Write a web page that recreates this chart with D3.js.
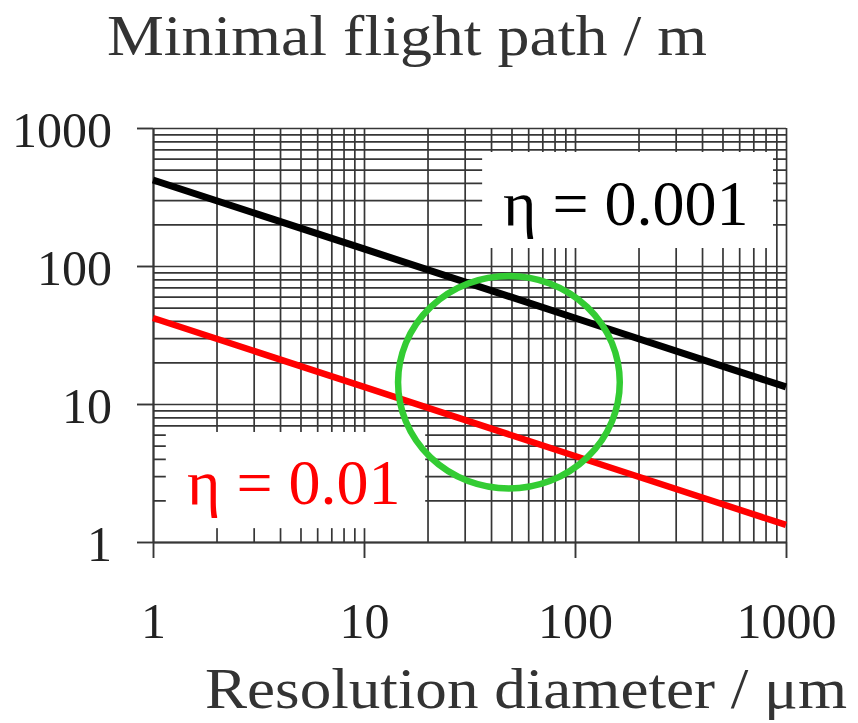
<!DOCTYPE html>
<html>
<head>
<meta charset="utf-8">
<script src="https://cdn.jsdelivr.net/npm/d3@7"></script>
<style>
  body { margin: 0; background: #fff; }
  text { font-family: "Liberation Serif", "DejaVu Serif", serif; }
</style>
</head>
<body>
<div id="chart"></div>
<script>
// values
var diameters = [1, 10, 100, 1000]
var pathEta001 = [420, 133, 42, 13.3]
var pathEta01 = [42, 13.3, 4.2, 1.33]
var majorTicks = [1, 10, 100, 1000]
var tickLabels = ["1", "10", "100", "1000"]
var labelEta001 = "η = 0.001"
var labelEta01 = "η = 0.01"
// highlighted region (data units)
var circleX = [14.5, 163]
var circleY = [2.44, 84.7]

var margin = { top: 128, right: 72, bottom: 181, left: 153 },
    width = 858 - margin.left - margin.right,
    height = 723 - margin.top - margin.bottom;

var svg = d3.select("#chart")
    .append("svg")
    .attr("width", 858)
    .attr("height", 723)

var g = svg.append("g")
    .attr("transform", "translate(" + margin.left + "," + margin.top + ")");

var x = d3.scaleLog().domain([1, 1000]).range([0, width])
var y = d3.scaleLog().domain([1, 1000]).range([height, 0])

// every 1..9 value of each decade for the grid
var gridValues = []
for (let dec = 1; dec < 1000; dec *= 10) {
    for (let k = 1; k < 10; k++) gridValues.push(dec * k)
}
gridValues.push(1000)

var gridColor = "#363636"

g.append("g")
    .attr("class", "xgrid")
    .attr("transform", "translate(0," + height + ")")
    .call(d3.axisBottom(x).tickValues(gridValues).tickSize(-height).tickFormat(""))
    .call(s => s.select(".domain").remove())
    .selectAll("line").attr("stroke", gridColor).attr("stroke-width", 1.7)

g.append("g")
    .attr("class", "ygrid")
    .call(d3.axisLeft(y).tickValues(gridValues).tickSize(-width).tickFormat(""))
    .call(s => s.select(".domain").remove())
    .selectAll("line").attr("stroke", gridColor).attr("stroke-width", 1.7)

// white label boxes (drawn over the grid)
function labelBox(x0, y0, x1, y1, txt, tx, ty, color) {
    g.append("rect")
        .attr("x", x(x0)).attr("y", y(y1))
        .attr("width", x(x1) - x(x0)).attr("height", y(y0) - y(y1))
        .attr("fill", "#fff")
    g.append("text")
        .attr("x", x(tx)).attr("y", y(ty))
        .attr("font-size", 64)
        .attr("fill", color)
        .text(txt)
}
labelBox(36.3, 135, 868, 670, labelEta001, 45.6, 198, "#000")
labelBox(1.15, 1.26, 19.5, 6.27, labelEta01, 1.45, 1.88, "#ff0000")

// axes with the major ticks
var xAxis = g.append("g")
    .attr("transform", "translate(0," + height + ")")
    .call(d3.axisBottom(x).tickValues(majorTicks).tickFormat((d, i) => tickLabels[i])
        .tickSize(16).tickSizeOuter(0).tickPadding(44))
xAxis.selectAll("line, path").attr("stroke", gridColor).attr("stroke-width", 1.9)
xAxis.selectAll("text").attr("font-size", 50).attr("fill", "#222")
    .style("font-family", "'Liberation Serif', serif")

var yAxis = g.append("g")
    .call(d3.axisLeft(y).tickValues(majorTicks).tickFormat((d, i) => tickLabels[i])
        .tickSize(16).tickSizeOuter(0).tickPadding(25))
yAxis.selectAll("line, path").attr("stroke", gridColor).attr("stroke-width", 1.9)
yAxis.selectAll("text").attr("font-size", 50).attr("fill", "#222").attr("dy", "0.37em")
    .style("font-family", "'Liberation Serif', serif")

// lines
var line = d3.line()
    .x(d => x(d[0]))
    .y(d => y(d[1]))

g.append("path")
    .datum(diameters.map((d, i) => [d, pathEta001[i]]))
    .attr("d", line)
    .attr("fill", "none")
    .attr("stroke", "#000")
    .attr("stroke-width", 7)

g.append("path")
    .datum(diameters.map((d, i) => [d, pathEta01[i]]))
    .attr("d", line)
    .attr("fill", "none")
    .attr("stroke", "#ff0000")
    .attr("stroke-width", 6.5)

// green highlight
g.append("ellipse")
    .attr("cx", (x(circleX[0]) + x(circleX[1])) / 2)
    .attr("cy", (y(circleY[0]) + y(circleY[1])) / 2)
    .attr("rx", (x(circleX[1]) - x(circleX[0])) / 2)
    .attr("ry", (y(circleY[0]) - y(circleY[1])) / 2)
    .attr("fill", "none")
    .attr("stroke", "#33cc33")
    .attr("stroke-width", 6.5)

// titles
svg.append("text")
    .attr("x", 107).attr("y", 55)
    .attr("font-size", 56)
    .attr("fill", "#333")
    .attr("textLength", 600)
    .attr("lengthAdjust", "spacingAndGlyphs")
    .text("Minimal flight path / m")

svg.append("text")
    .attr("x", 205).attr("y", 708)
    .attr("font-size", 56)
    .attr("fill", "#333")
    .attr("textLength", 642)
    .attr("lengthAdjust", "spacingAndGlyphs")
    .text("Resolution diameter / μm")
</script>
</body>
</html>
